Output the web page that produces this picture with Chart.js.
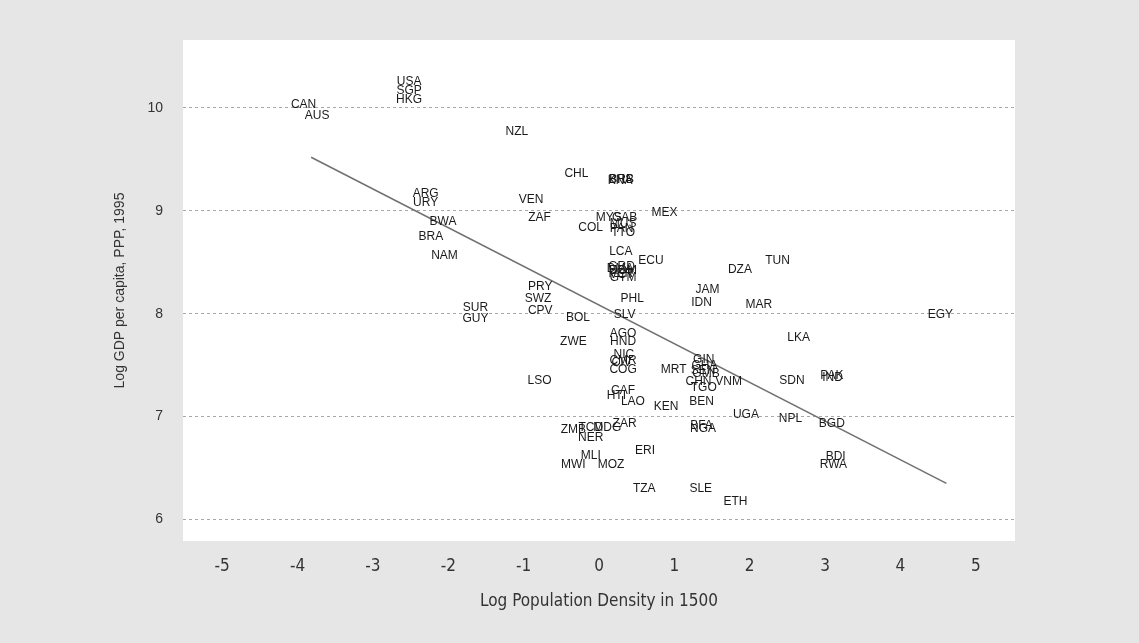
<!DOCTYPE html>
<html>
<head>
<meta charset="utf-8">
<script src="https://cdn.jsdelivr.net/npm/chart.js@4/dist/chart.umd.min.js"></script>
<style>
  html, body { margin: 0; padding: 0; background: #e6e6e6; }
  canvas { display: block; }
</style>
</head>
<body>
<canvas id="chart" width="1139" height="643"></canvas>
<script>
// country codes and their values
const codes = ["USA","SGP","HKG","CAN","AUS","NZL","CHL","BHS","BRB","KNA","ARG","URY","VEN","ZAF","BWA","BRA","NAM",
  "MYS","GAB","MUS","PAN","TTO","MEX","COL","LCA","ECU","GRD","DMA","DOM","PER","VCT","GTM","DZA","TUN","JAM","IDN","MAR",
  "PRY","SWZ","CPV","PHL","SUR","GUY","BOL","SLV","EGY","AGO","HND","ZWE","LKA","NIC","CMR","CIV","COG","MRT",
  "GIN","GHA","SEN","GMB","CHN","VNM","TGO","BEN","SDN","PAK","IND","LSO","CAF","HTI","LAO","KEN","UGA","NPL","BGD",
  "ZMB","TCD","MDG","ZAR","NER","BFA","NGA","ERI","MLI","MWI","MOZ","BDI","RWA","TZA","SLE","ETH"];

const density = [-2.52,-2.52,-2.52,-3.92,-3.74,-1.09,-0.30,0.29,0.30,0.28,-2.30,-2.30,-0.90,-0.79,-2.07,-2.23,-2.05,
  0.13,0.34,0.32,0.30,0.32,0.87,-0.11,0.29,0.69,0.30,0.28,0.32,0.29,0.30,0.32,1.87,2.37,1.44,1.36,2.12,
  -0.78,-0.81,-0.78,0.44,-1.64,-1.64,-0.28,0.34,4.53,0.32,0.32,-0.34,2.65,0.33,0.32,0.30,0.32,0.99,
  1.39,1.40,1.38,1.42,1.32,1.72,1.39,1.36,2.56,3.09,3.10,-0.79,0.32,0.23,0.45,0.89,1.95,2.54,3.09,
  -0.34,-0.11,0.11,0.34,-0.11,1.36,1.38,0.61,-0.11,-0.34,0.16,3.14,3.11,0.60,1.35,1.81];

const gdp = [10.25,10.17,10.08,10.03,9.92,9.77,9.36,9.30,9.30,9.29,9.17,9.08,9.11,8.93,8.89,8.75,8.56,
  8.93,8.93,8.87,8.83,8.79,8.98,8.84,8.60,8.51,8.46,8.44,8.42,8.39,8.38,8.35,8.43,8.51,8.23,8.11,8.09,
  8.26,8.15,8.03,8.15,8.06,7.95,7.96,7.99,7.99,7.81,7.73,7.73,7.77,7.60,7.54,7.52,7.46,7.46,
  7.55,7.49,7.45,7.42,7.34,7.34,7.28,7.14,7.35,7.40,7.38,7.35,7.25,7.20,7.14,7.10,7.02,6.98,6.93,
  6.87,6.89,6.89,6.93,6.79,6.91,6.88,6.67,6.62,6.53,6.53,6.61,6.53,6.30,6.30,6.17];

// fitted line end points
const fitX = [-3.82, 4.61];
const fitY = [9.52, 6.35];

const points = codes.map((c, i) => ({ x: density[i], y: gdp[i] }));
const fitLine = fitX.map((x, i) => ({ x: x, y: fitY[i] }));

// grey page, white plot area
const backdrop = {
    id: "backdrop",
    beforeDraw(chart) {
        const { ctx, chartArea } = chart;
        ctx.save();
        ctx.fillStyle = "#e6e6e6";
        ctx.fillRect(0, 0, chart.width, chart.height);
        ctx.fillStyle = "#ffffff";
        ctx.fillRect(chartArea.left, chartArea.top, chartArea.right - chartArea.left, chartArea.bottom - chartArea.top);
        ctx.restore();
    }
};

// write the country code at each point
const codeLabels = {
    id: "codeLabels",
    afterDatasetsDraw(chart) {
        const ctx = chart.ctx;
        const meta = chart.getDatasetMeta(0);
        ctx.save();
        ctx.font = "12px 'Liberation Sans', Arial, sans-serif";
        ctx.fillStyle = "#1a1a1a";
        ctx.textAlign = "center";
        ctx.textBaseline = "middle";
        meta.data.forEach((el, i) => {
            ctx.fillText(codes[i], el.x, el.y);
        });
        ctx.restore();
    }
};

const narrow = "'DejaVu Sans Condensed', 'Liberation Sans', Arial, sans-serif";

new Chart(document.getElementById("chart"), {
    type: "scatter",
    data: {
        datasets: [{
            data: points,
            pointRadius: 0,
            pointHoverRadius: 0
        }, {
            type: "line",
            data: fitLine,
            borderColor: "#707070",
            borderWidth: 1.5,
            pointRadius: 0,
            fill: false
        }]
    },
    options: {
        responsive: false,
        animation: false,
        layout: { padding: { top: 40, right: 124, left: 0, bottom: 0 } },
        plugins: {
            legend: { display: false },
            tooltip: { enabled: false }
        },
        scales: {
            x: {
                type: "linear",
                min: -5.52,
                max: 5.52,
                afterFit: function (scale) { scale.height = 102; },
                grid: { display: false, drawTicks: false },
                border: { display: false },
                ticks: {
                    stepSize: 1,
                    includeBounds: false,
                    padding: 15,
                    color: "#333333",
                    font: { family: narrow, size: 17 }
                },
                title: {
                    display: true,
                    text: "Log Population Density in 1500",
                    color: "#333333",
                    font: { family: narrow, size: 17 },
                    padding: { top: 0, bottom: 31 }
                }
            },
            y: {
                type: "linear",
                min: 5.79,
                max: 10.66,
                afterFit: function (scale) { scale.width = 183; },
                grid: { color: "#a8a8a8", lineWidth: 1, drawTicks: false },
                border: { display: false, dash: [3, 3] },
                ticks: {
                    stepSize: 1,
                    includeBounds: false,
                    padding: 20,
                    color: "#333333",
                    font: { family: "'Liberation Sans', Arial, sans-serif", size: 14 }
                },
                title: {
                    display: true,
                    text: "Log GDP per capita, PPP, 1995",
                    color: "#333333",
                    font: { family: "'Liberation Sans', Arial, sans-serif", size: 14 },
                    padding: { top: 112, bottom: 0 }
                }
            }
        }
    },
    plugins: [backdrop, codeLabels]
});
</script>
</body>
</html>
